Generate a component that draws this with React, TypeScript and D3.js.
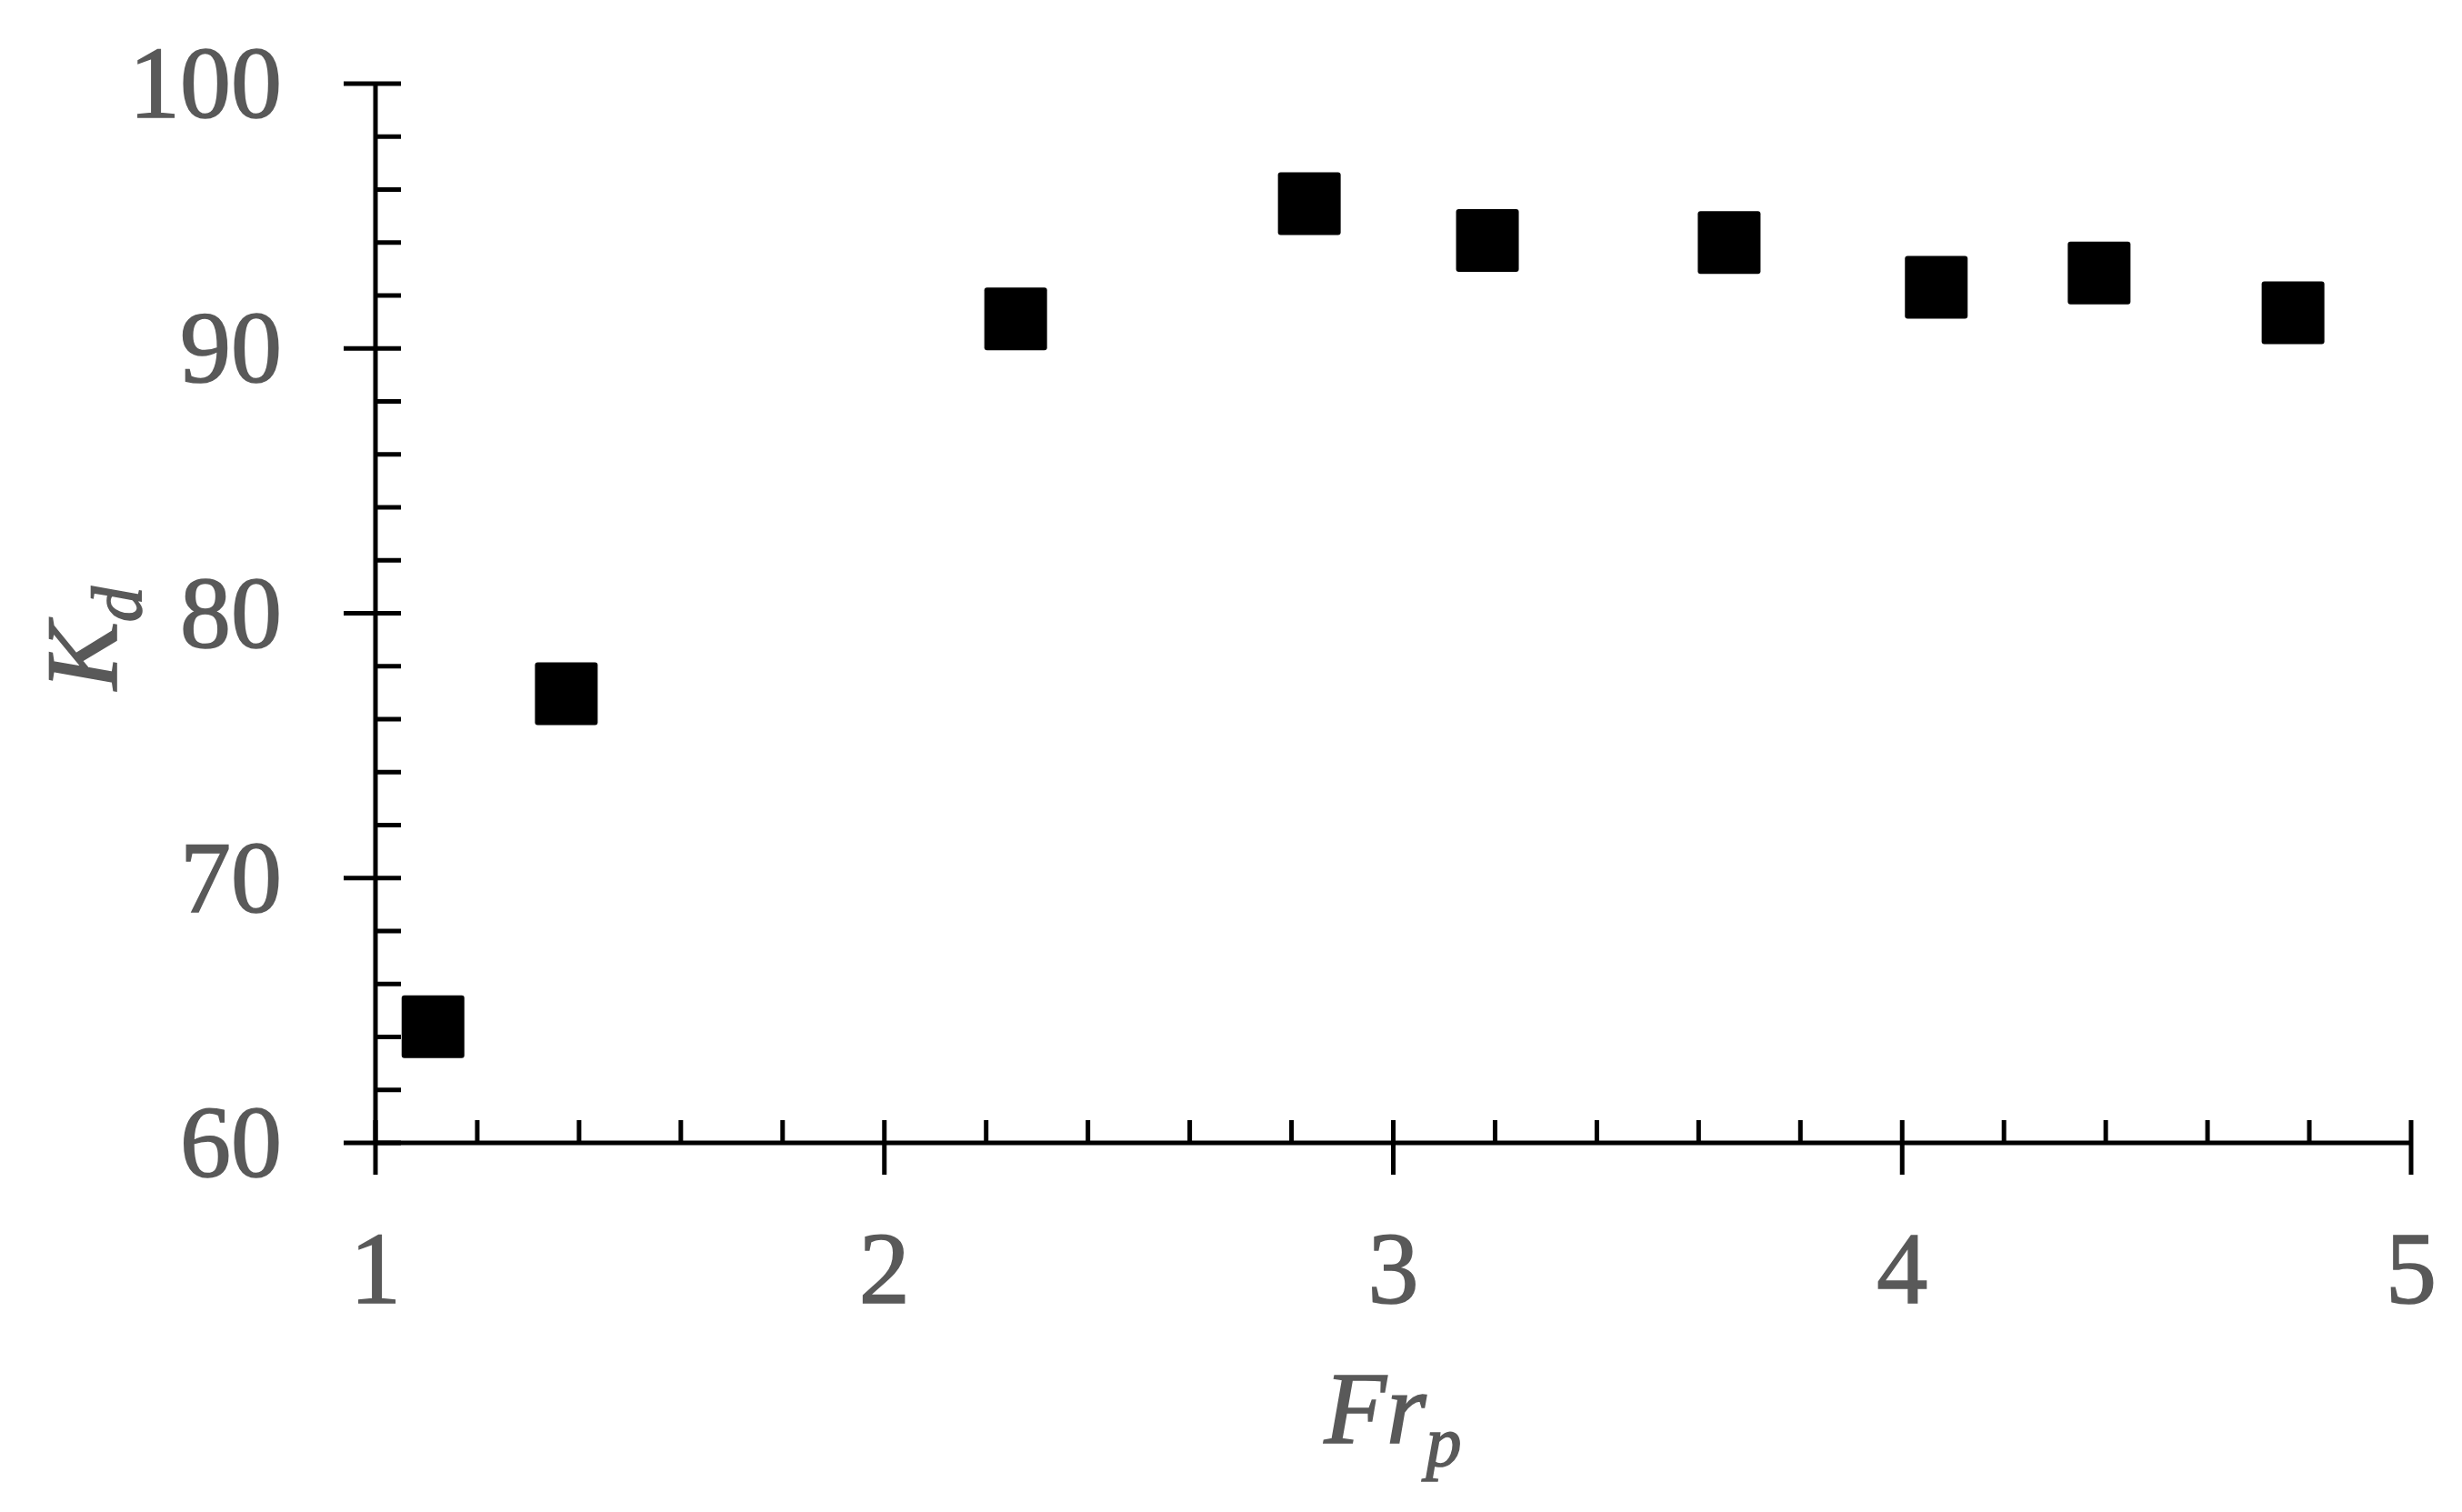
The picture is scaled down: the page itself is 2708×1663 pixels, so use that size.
import React from "react";
import * as d3 from "d3";

const frp = [1.113, 1.375, 2.258, 2.835, 3.185, 3.66, 4.067, 4.387, 4.768];
const kd = [64.39, 76.96, 91.12, 95.47, 94.08, 94.0, 92.31, 92.85, 91.35];
const xMajorTicks = [1, 2, 3, 4, 5];
const yMajorTicks = [60, 70, 80, 90, 100];

const W = 2708;
const H = 1663;
const M = { left: 413, right: W - 2652, top: 92, bottom: H - 1257 };

export default function App() {
  const x = d3.scaleLinear().domain([1, 5]).range([M.left, W - M.right]);
  const y = d3.scaleLinear().domain([60, 100]).range([H - M.bottom, M.top]);
  const xMinor = d3.range(1, 5.0001, 0.2).filter((v) => Math.abs(v - Math.round(v)) > 1e-6);
  const yMinor = d3.range(60, 100.0001, 2).filter((v) => Math.abs(v % 10) > 1e-6);
  const x0 = x(1);
  const y0 = y(60);
  const labelColor = "#595959";
  const font = "'Liberation Serif', 'DejaVu Serif', serif";
  const sq = 69;
  const sw = 5;
  const textStroke = { stroke: labelColor, strokeWidth: 1.6 };
  return (
    <svg
      width={W}
      height={H}
      style={{ position: "absolute", left: 0, top: 0, display: "block", background: "#fff" }}
    >
      <rect width={W} height={H} fill="#fff" />
      {/* axes */}
      <line x1={x0} x2={x0} y1={y(100)} y2={y0} stroke="#000" strokeWidth={sw} />
      <line x1={x0} x2={x(5)} y1={y0} y2={y0} stroke="#000" strokeWidth={sw} />
      {yMajorTicks.map((v) => (
        <line key={"ym" + v} x1={x0 - 35} x2={x0 + 28} y1={y(v)} y2={y(v)} stroke="#000" strokeWidth={sw} />
      ))}
      {yMinor.map((v) => (
        <line key={"yn" + v} x1={x0} x2={x0 + 28} y1={y(v)} y2={y(v)} stroke="#000" strokeWidth={sw} />
      ))}
      {xMajorTicks.map((v) => (
        <line key={"xm" + v} x1={x(v)} x2={x(v)} y1={y0 - 25} y2={y0 + 35} stroke="#000" strokeWidth={sw} />
      ))}
      {xMinor.map((v) => (
        <line key={"xn" + v} x1={x(v)} x2={x(v)} y1={y0 - 25} y2={y0} stroke="#000" strokeWidth={sw} />
      ))}
      {/* tick labels */}
      {yMajorTicks.map((v) => (
        <text
          key={"yl" + v}
          x={x0 - 103}
          y={y(v) + 37}
          textAnchor="end"
          fontFamily={font}
          fontSize={112}
          fill={labelColor}
          {...textStroke}
        >
          {v}
        </text>
      ))}
      {xMajorTicks.map((v) => (
        <text
          key={"xl" + v}
          x={x(v)}
          y={1433}
          textAnchor="middle"
          fontFamily={font}
          fontSize={112}
          fill={labelColor}
          {...textStroke}
        >
          {v}
        </text>
      ))}
      {/* axis titles */}
      <text
        x={1532}
        y={1587}
        textAnchor="middle"
        fontFamily={font}
        fontStyle="italic"
        fontSize={112}
        fill={labelColor}
        {...textStroke}
      >
        <tspan>Fr</tspan>
        <tspan fontSize={78} dy={25}>p</tspan>
      </text>
      <text
        transform={`translate(128,702) rotate(-90)`}
        textAnchor="middle"
        fontFamily={font}
        fontStyle="italic"
        fontSize={112}
        fill={labelColor}
        {...textStroke}
      >
        <tspan>K</tspan>
        <tspan fontSize={78} dy={27}>d</tspan>
      </text>
      {/* markers */}
      {frp.map((v, i) => (
        <rect
          key={"p" + i}
          x={x(v) - sq / 2}
          y={y(kd[i]) - sq / 2}
          width={sq}
          height={sq}
          rx={3}
          fill="#000"
        />
      ))}
    </svg>
  );
}
